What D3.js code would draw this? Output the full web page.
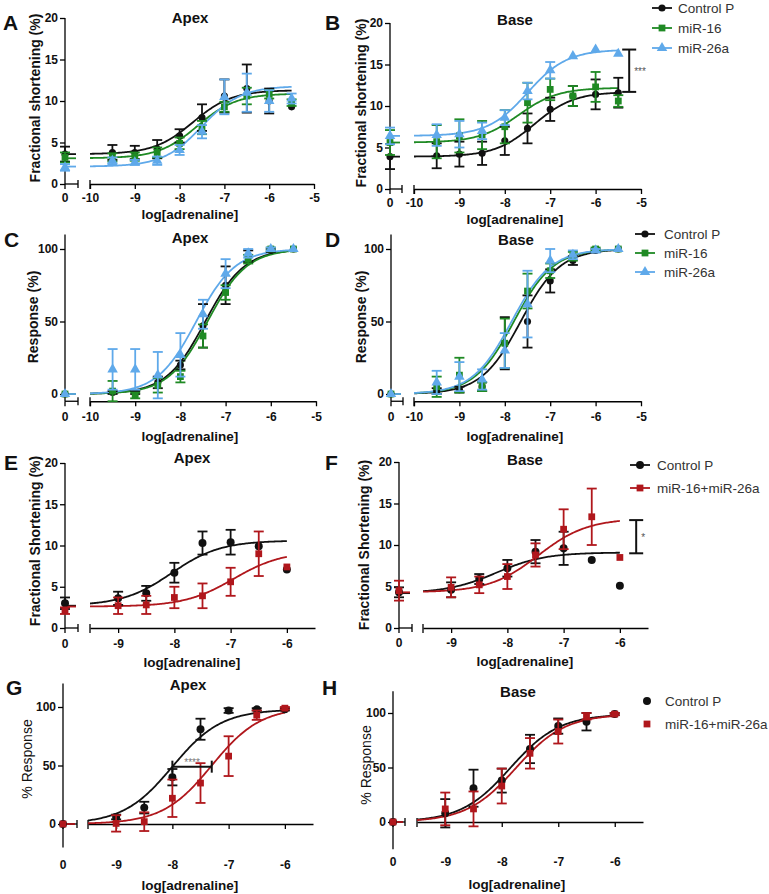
<!DOCTYPE html>
<html><head><meta charset="utf-8">
<script src="https://cdn.jsdelivr.net/npm/d3@7"></script>
<style>body{margin:0;background:#fff} text{font-family:"Liberation Sans",Arial,sans-serif}</style>
</head><body><svg id="c" width="769" height="894"></svg>
<script>
// ---------------- DATA ----------------
const doseAD = [-9.5,-9,-8.5,-8,-7.5,-7,-6.5,-6,-5.5];
const doseEH = [-9,-8.5,-8,-7.5,-7,-6.5,-6];
const ticksAD = [-10,-9,-8,-7,-6,-5];
const ticksEH = [-9,-8,-7,-6];
const ticksFS = [0,5,10,15,20];
const ticksResp = [0,50,100];
const names3 = ["Control P","miR-16","miR-26a"];
const names2 = ["Control P","miR-16+miR-26a"];

// Panel A  (base value at 0, [mean, err]); fit = [bottom, top, logEC50, hill]
const aCtrl = [3.8,3.8,4.2,5.8,8.0,10.6,11.5,10.0,9.3];
const aCtrlErr = [0.9,0.8,1.1,0.8,1.6,2.0,2.9,1.5,0];
const aCtrl0 = [3.6,0.9]; const aCtrlFit = [3.6,11.3,-7.7,1];
const aM16 = [3.2,3.3,3.8,4.9,6.8,9.3,10.6,10.8,9.8];
const aM16Err = [0.5,0.5,0.6,0.7,0.8,0.6,1.0,0.5,0.4];
const aM160 = [3.2,0.6]; const aM16Fit = [3.1,10.9,-7.6,1];
const aM26 = [2.8,2.6,2.8,4.1,6.3,10.5,11.0,10.0,10.3];
const aM26Err = [0.4,0.3,0.5,0.6,0.8,2.1,2.3,1.3,0.6];
const aM260 = [2.0,0.4]; const aM26Fit = [2.1,11.8,-7.5,1];

// Panel B
const bCtrl = [4.0,4.2,4.3,5.8,7.3,9.6,11.2,11.4,11.6];
const bCtrlErr = [1.5,1.5,1.4,1.7,1.8,1.4,1.2,1.8,1.8];
const bCtrl0 = [3.9,1.5]; const bCtrlFit = [3.9,11.7,-7.35,1];
const bM16 = [5.7,6.4,6.5,7.5,10.4,12.0,11.2,12.3,10.6];
const bM16Err = [2.0,2.0,1.7,2.0,2.4,1.3,1.2,1.8,0.7];
const bM160 = [5.6,1.5]; const bM16Fit = [5.6,12.2,-7.7,1];
const bM26 = [6.5,6.6,7.0,8.6,11.8,14.3,16.0,16.8,16.3];
const bM26Err = [1.3,1.6,1.0,0.9,1.0,1.0,0,0,0];
const bM260 = [6.4,1.0]; const bM26Fit = [6.4,16.8,-7.5,1];
const bSig = [11.7,16.8];

// Panel C
const cCtrl = [1,1,8,20,47,75,95,99,100];
const cCtrlErr = [1,1,4,3,15,13,4,1,0];
const cCtrlFit = [0,100,-7.45,1];
const cM16 = [2,-1,6,12,40,70,93,100,100];
const cM16Err = [7,2,5,4,8,5,3,1,0];
const cM16Fit = [0,100,-7.4,1];
const cM26 = [17,17,13,27,55,83,97,100,100];
const cM26Err = [14,14,16,15,10,10,3,1,0];
const cM26Fit = [0,100,-7.65,1];

// Panel D
const dCtrl = [2,3,5,35,50,78,92,99,100];
const dCtrlErr = [2,2,3,18,18,8,3,1,0];
const dCtrlFit = [0,100,-7.65,1];
const dM16 = [5,13,5,35,71,85,95,100,100];
const dM16Err = [7,12,3,17,12,5,3,1,0];
const dM16Fit = [0,100,-7.8,1];
const dM26 = [8,12,10,30,62,92,96,99,100];
const dM26Err = [8,10,7,12,23,8,3,1,0];
const dM26Fit = [0,100,-7.85,1];
const resp0 = [0,0];

// Panel E
const eCtrl = [3.6,4.2,6.7,10.3,10.4,9.9,7.1];
const eCtrlErr = [0.8,0.9,1.2,1.4,1.5,0,0];
const eCtrl0 = [3.0,0.7]; const eCtrlFit = [2.7,10.6,-8.05,1];
const eCombo = [2.7,2.8,3.7,3.9,5.6,9.0,7.4];
const eComboErr = [1.0,1.1,1.3,1.5,1.7,2.7,0];
const eCombo0 = [2.1,0.4]; const eComboFit = [2.6,9.3,-6.95,1];

// Panel F
const fCtrl = [4.6,5.9,7.2,9.2,9.6,8.2,5.1];
const fCtrlErr = [0.9,0.6,1.0,1.4,2.0,0,0];
const fCtrl0 = [4.3,0.6]; const fCtrlFit = [4.2,9.1,-8.2,1];
const fCombo = [4.9,5.2,6.2,8.8,11.9,13.4,8.5];
const fComboErr = [1.2,1.0,1.5,1.4,2.4,3.4,0];
const fCombo0 = [4.5,1.2]; const fComboFit = [4.3,13.2,-7.45,1];
const fSig = [9.0,13.0];

// Panel G
const gCtrl = [6,14,40,81,97,98,98];
const gCtrlErr = [2,5,7,9,2,1,1];
const gCtrlFit = [0,98,-8.0,1];
const gCombo = [0.5,2,22,35,58,93,99];
const gComboErr = [7,8,16,17,17,4,1];
const gComboFit = [0,100,-7.3,1];
const gSig = [-8.0,-7.3,49];

// Panel H
const hCtrl = [8,31,38,67,88,92,99];
const hCtrlErr = [13,17,11,13,7,8,1];
const hCtrlFit = [0,99,-7.85,1];
const hCombo = [12,12,33,63,83,97,99];
const hComboErr = [15,16,16,14,11,3,1];
const hComboFit = [0,99,-7.75,1];

// ---------------- STYLE ----------------
const C_BLACK = "#111111", C_GREEN = "#1f8a24", C_BLUE = "#5fa9ea", C_RED = "#b0171c";
const FONT = '"Liberation Sans", Arial, sans-serif';
const svg = d3.select("#c");

function fourPL(p, x) { const [b,t,ec,h] = p; return b + (t-b)/(1+Math.pow(10,(ec-x)*h)); }
function sym(shape, big) {
  const t = shape === "circle" ? d3.symbolCircle : shape === "square" ? d3.symbolSquare : d3.symbolTriangle;
  const s = shape === "circle" ? (big ? 50 : 40) : shape === "square" ? 46 : 48;
  return d3.symbol().type(t).size(s)();
}
function mk(name, color, shape, vals, errs, base, fit) { return {name, color, shape, vals, errs, base, fit}; }

function drawPanel(P) {
  const g = svg.append("g");
  const x = d3.scaleLinear().domain(P.xDom).range(P.xRng);
  const y = d3.scaleLinear().domain(P.yDom).range(P.yRng);
  const ax = P.ax, axisY = y(P.xAxisAt);

  // y axis
  g.append("line").attr("x1",ax).attr("x2",ax).attr("y1",y(P.yDom[0])).attr("y2",y(P.yDom[1]))
    .attr("stroke","#000").attr("stroke-width",1.3);
  const yAx = g.append("g").attr("transform",`translate(${ax},0)`)
    .call(d3.axisLeft(y).tickValues(P.yTicks).tickSize(5).tickSizeOuter(0).tickFormat(d=>String(d)));
  yAx.select(".domain").remove();
  yAx.selectAll("line").attr("stroke","#000").attr("stroke-width",1.3);
  yAx.selectAll("text").attr("font-family",FONT).attr("font-size",12).attr("font-weight","bold").attr("fill","#111").attr("x",-7);

  // main x axis
  const xAx = g.append("g").attr("transform",`translate(0,${axisY})`)
    .call(d3.axisBottom(x).tickValues(P.xTicks).tickSize(5).tickSizeOuter(0).tickFormat(d=>String(d)));
  xAx.select(".domain").attr("stroke","#000").attr("stroke-width",1.3);
  xAx.selectAll("line").attr("stroke","#000").attr("stroke-width",1.3);
  xAx.selectAll("text").attr("font-family",FONT).attr("font-size",12).attr("font-weight","bold").attr("fill","#111")
    .attr("y", P.tickBase - axisY).attr("dy", 0);
  g.append("line").attr("x1",x(P.xDom[0])).attr("x2",x(P.xDom[0])).attr("y1",axisY-4).attr("y2",axisY+5)
    .attr("stroke","#000").attr("stroke-width",1.3);
  // left (zero) segment
  g.append("line").attr("x1",ax).attr("x2",P.segEnd).attr("y1",axisY).attr("y2",axisY).attr("stroke","#000").attr("stroke-width",1.3);
  g.append("line").attr("x1",P.segEnd).attr("x2",P.segEnd).attr("y1",axisY-4).attr("y2",axisY+4).attr("stroke","#000").attr("stroke-width",1.3);
  g.append("line").attr("x1",ax).attr("x2",ax).attr("y1",axisY).attr("y2",axisY+5).attr("stroke","#000").attr("stroke-width",1.3);
  g.append("text").attr("x",ax).attr("y",P.tickBase).attr("text-anchor","middle").attr("font-family",FONT)
    .attr("font-size",12).attr("font-weight","bold").attr("fill","#111").text("0");

  // labels
  g.append("text").attr("x",P.title[0]).attr("y",P.title[1]).attr("text-anchor","middle").attr("font-family",FONT)
    .attr("font-size",15).attr("font-weight","bold").attr("fill","#111").text(P.title[2]);
  g.append("text").attr("x",P.letter[0]).attr("y",P.letter[1]).attr("font-family",FONT)
    .attr("font-size",21).attr("font-weight","bold").attr("fill","#111").text(P.letter[2]);
  g.append("text").attr("x",P.xLabel[0]).attr("y",P.xLabel[1]).attr("text-anchor","middle").attr("font-family",FONT)
    .attr("font-size",13.5).attr("font-weight","bold").attr("fill","#111").text("log[adrenaline]");
  g.append("text").attr("transform",`translate(${P.yLabel[0]},${P.yLabel[1]}) rotate(-90)`)
    .attr("text-anchor","middle").attr("dominant-baseline","central").attr("font-family",FONT)
    .attr("font-size",P.yLabel[3] || 14).attr("font-weight",P.yLabel[4] || "bold").attr("fill","#111").text(P.yLabel[2]);

  const line = d3.line().x(d=>x(d[0])).y(d=>y(d[1]));
  const N = 160;
  P.series.forEach(s => {
    // fitted curve
    const pts = d3.range(N+1).map(i => { const xv = P.xDom[0] + i*(P.curveEnd-P.xDom[0])/N; return [xv, fourPL(s.fit, xv)]; });
    g.append("path").attr("d", line(pts)).attr("fill","none").attr("stroke",s.color).attr("stroke-width",1.8);
    g.append("line").attr("x1",ax).attr("x2",P.segEnd-2).attr("y1",y(s.fit[0])).attr("y2",y(s.fit[0]))
      .attr("stroke",s.color).attr("stroke-width",1.8);
  });
  P.series.forEach(s => {
    const pts = s.vals.map((v,i) => ({px: x(P.dose[i]), v, e: s.errs[i]}));
    pts.unshift({px: ax, v: s.base[0], e: s.base[1]});
    pts.forEach(p => {
      if (p.e > 0) {
        const y1 = y(p.v - p.e), y2 = y(p.v + p.e);
        g.append("line").attr("x1",p.px).attr("x2",p.px).attr("y1",y1).attr("y2",y2).attr("stroke",s.color).attr("stroke-width",1.8);
        [y1,y2].forEach(yy => g.append("line").attr("x1",p.px-5).attr("x2",p.px+5).attr("y1",yy).attr("y2",yy)
          .attr("stroke",s.color).attr("stroke-width",1.8));
      }
      g.append("path").attr("d", sym(s.shape, P.big)).attr("transform",`translate(${p.px},${y(p.v)})`).attr("fill",s.color);
    });
  });

  // legend
  if (P.legend) {
    const L = P.legend;
    P.series.forEach((s,i) => {
      const ly = L.y + i*L.dy;
      if (!L.noLine) g.append("line").attr("x1",L.x-10).attr("x2",L.x+10).attr("y1",ly).attr("y2",ly).attr("stroke",s.color).attr("stroke-width",1.8);
      g.append("path").attr("d", sym(s.shape, P.big)).attr("transform",`translate(${L.x},${ly})`).attr("fill",s.color);
      g.append("text").attr("x",L.tx).attr("y",ly).attr("dy","0.36em").attr("font-family",FONT).attr("font-size",13.5)
        .attr("fill","#333").text(s.name);
    });
  }
  // significance
  if (P.vsig) {
    const [xv, lo, hi, lab] = P.vsig;
    const px = x(xv);
    g.append("line").attr("x1",px).attr("x2",px).attr("y1",y(lo)).attr("y2",y(hi)).attr("stroke","#111").attr("stroke-width",2);
    [lo,hi].forEach(v => g.append("line").attr("x1",px-7).attr("x2",px+7).attr("y1",y(v)).attr("y2",y(v)).attr("stroke","#111").attr("stroke-width",2));
    g.append("text").attr("x",px+5).attr("y",(y(lo)+y(hi))/2+4).attr("font-family",FONT).attr("font-size",10).attr("fill","#555").text(lab);
  }
  if (P.hsig) {
    const [x1, x2, v, lab] = P.hsig;
    g.append("line").attr("x1",x(x1)).attr("x2",x(x2)).attr("y1",y(v)).attr("y2",y(v)).attr("stroke","#111").attr("stroke-width",2);
    [x1,x2].forEach(xx => g.append("line").attr("x1",x(xx)).attr("x2",x(xx)).attr("y1",y(v)-6).attr("y2",y(v)+6).attr("stroke","#111").attr("stroke-width",2));
    g.append("text").attr("x",(x(x1)+x(x2))/2).attr("y",y(v)-1).attr("text-anchor","middle").attr("font-family",FONT)
      .attr("font-size",10).attr("fill","#777").text(lab);
  }
}

// ---------------- PANELS ----------------
drawPanel({xDom:[-10,-5], xRng:[90,314], yDom:[0,20], yRng:[184,18], yTicks:ticksFS, xTicks:ticksAD, ax:65, segEnd:78,
  xAxisAt:0, tickBase:202, curveEnd:-5.5, dose:doseAD, title:[190,23,"Apex"], letter:[3,30,"A"], xLabel:[190,219],
  yLabel:[35,98,"Fractional shortening (%)"],
  series:[mk(names3[0],C_BLACK,"circle",aCtrl,aCtrlErr,aCtrl0,aCtrlFit), mk(names3[1],C_GREEN,"square",aM16,aM16Err,aM160,aM16Fit),
          mk(names3[2],C_BLUE,"triangle",aM26,aM26Err,aM260,aM26Fit)]});

drawPanel({xDom:[-10,-5], xRng:[414,641], yDom:[0,20], yRng:[189,23], yTicks:ticksFS, xTicks:ticksAD, ax:390, segEnd:402,
  xAxisAt:0, tickBase:207, curveEnd:-5.5, dose:doseAD, title:[515,25,"Base"], letter:[325,30,"B"], xLabel:[515,224],
  yLabel:[361,103,"Fractional shortening (%)"], legend:{x:662,y:8,dy:20,tx:678}, vsig:[-5.26,bSig[0],bSig[1],"***"],
  series:[mk(names3[0],C_BLACK,"circle",bCtrl,bCtrlErr,bCtrl0,bCtrlFit), mk(names3[1],C_GREEN,"square",bM16,bM16Err,bM160,bM16Fit),
          mk(names3[2],C_BLUE,"triangle",bM26,bM26Err,bM260,bM26Fit)]});

drawPanel({xDom:[-10,-5], xRng:[90,316], yDom:[-5,110], yRng:[401.25,234.5], yTicks:ticksResp, xTicks:ticksAD, ax:65, segEnd:78,
  xAxisAt:-5, tickBase:421, curveEnd:-5.5, dose:doseAD, title:[190,243,"Apex"], letter:[4,247,"C"], xLabel:[190,441],
  yLabel:[33,317,"Response (%)"],
  series:[mk(names3[0],C_BLACK,"circle",cCtrl,cCtrlErr,resp0,cCtrlFit), mk(names3[1],C_GREEN,"square",cM16,cM16Err,resp0,cM16Fit),
          mk(names3[2],C_BLUE,"triangle",cM26,cM26Err,resp0,cM26Fit)]});

drawPanel({xDom:[-10,-5], xRng:[414,641], yDom:[-5,110], yRng:[401.25,234.5], yTicks:ticksResp, xTicks:ticksAD, ax:391, segEnd:403,
  xAxisAt:-5, tickBase:421, curveEnd:-5.5, dose:doseAD, title:[516,245,"Base"], letter:[325,247,"D"], xLabel:[515,441],
  yLabel:[361,317,"Response (%)"], legend:{x:645,y:234,dy:19,tx:664},
  series:[mk(names3[0],C_BLACK,"circle",dCtrl,dCtrlErr,resp0,dCtrlFit), mk(names3[1],C_GREEN,"square",dM16,dM16Err,resp0,dM16Fit),
          mk(names3[2],C_BLUE,"triangle",dM26,dM26Err,resp0,dM26Fit)]});

drawPanel({xDom:[-9.5,-5.5], xRng:[90,315], yDom:[0,20], yRng:[628,463], yTicks:ticksFS, xTicks:ticksEH, ax:65, segEnd:78,
  xAxisAt:0, tickBase:648, curveEnd:-6, dose:doseEH, big:true, title:[192,463,"Apex"], letter:[4,470,"E"], xLabel:[192,667],
  yLabel:[35,541,"Fractional Shortening (%)"],
  series:[mk(names2[0],C_BLACK,"circle",eCtrl,eCtrlErr,eCtrl0,eCtrlFit), mk(names2[1],C_RED,"square",eCombo,eComboErr,eCombo0,eComboFit)]});

drawPanel({xDom:[-9.5,-5.5], xRng:[423,648], yDom:[0,20], yRng:[628,462], yTicks:ticksFS, xTicks:ticksEH, ax:399, segEnd:412,
  xAxisAt:0, tickBase:647, curveEnd:-6, dose:doseEH, big:true, title:[525,465,"Base"], letter:[325,470,"F"], xLabel:[525,666],
  yLabel:[364,545,"Fractional Shortening (%)"], legend:{x:640,y:465,dy:23,tx:657}, vsig:[-5.71,fSig[0],fSig[1],"*"],
  series:[mk(names2[0],C_BLACK,"circle",fCtrl,fCtrlErr,fCtrl0,fCtrlFit), mk(names2[1],C_RED,"square",fCombo,fComboErr,fCombo0,fComboFit)]});

drawPanel({xDom:[-9.5,-5.5], xRng:[88,313], yDom:[-20,120], yRng:[847.4,683.6], yTicks:ticksResp, xTicks:ticksEH, ax:63, segEnd:77,
  xAxisAt:0, tickBase:869, curveEnd:-6, dose:doseEH, big:true, title:[188,690,"Apex"], letter:[6,695,"G"], xLabel:[190,890],
  yLabel:[27,759,"% Response",14,"normal"], hsig:[gSig[0],gSig[1],gSig[2],"****"],
  series:[mk(names2[0],C_BLACK,"circle",gCtrl,gCtrlErr,resp0,gCtrlFit), mk(names2[1],C_RED,"square",gCombo,gComboErr,resp0,gComboFit)]});

drawPanel({xDom:[-9.5,-5.5], xRng:[417,643], yDom:[-25,120], yRng:[849.25,691.2], yTicks:ticksResp, xTicks:ticksEH, ax:393, segEnd:405,
  xAxisAt:0, tickBase:866, curveEnd:-6, dose:doseEH, big:true, title:[518,697,"Base"], letter:[322,695,"H"], xLabel:[517,889],
  yLabel:[366,765,"% Response",14,"normal"], legend:{x:647,y:701,dy:23,tx:665,noLine:true},
  series:[mk(names2[0],C_BLACK,"circle",hCtrl,hCtrlErr,resp0,hCtrlFit), mk(names2[1],C_RED,"square",hCombo,hComboErr,resp0,hComboFit)]});
</script></body></html>
